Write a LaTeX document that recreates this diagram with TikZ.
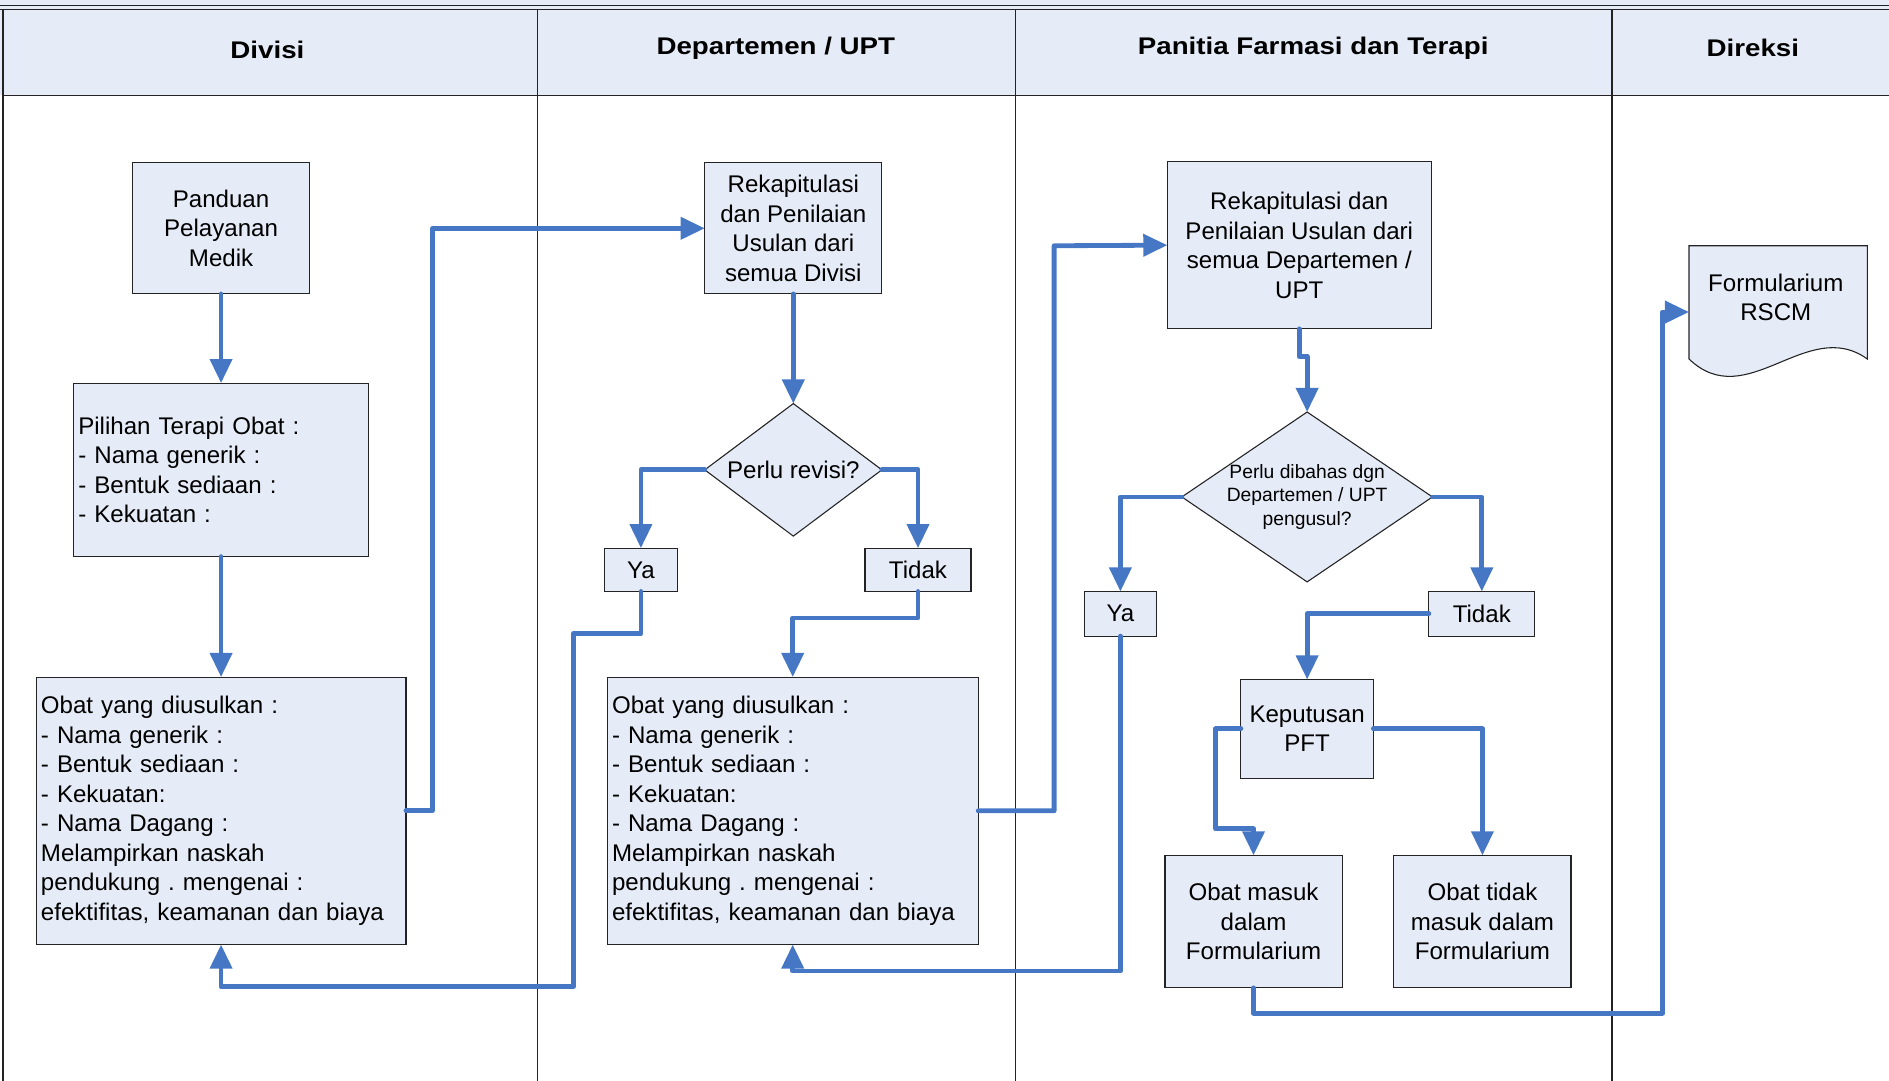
\documentclass[tikz,border=0pt]{standalone}
\usepackage{fontspec}
\usepackage{graphicx}
\setmainfont{Liberation Sans}
\usetikzlibrary{arrows.meta,shapes.geometric}
\frenchspacing

\definecolor{flowblue}{RGB}{70,119,196}
\definecolor{boxfill}{RGB}{230,236,247}
\definecolor{framegray}{RGB}{35,35,35}

\newcommand\boxtextfont{\fontsize{20}{24.5}\selectfont}
\newcommand\smalltextfont{\fontsize{16}{19.5}\selectfont}
\newcommand\headtext[1]{\scalebox{1.15}[1]{\fontsize{20}{24}\selectfont\bfseries #1}}

\begin{document}
\begin{tikzpicture}[x=1pt,y=-1pt,
  box/.style={draw=framegray, line width=0.9pt, fill=boxfill, inner sep=0pt,
    outer sep=0pt, font=\boxtextfont, align=center},
  listbox/.style={box, align=left},
  decision/.style={diamond, draw=framegray, line width=0.9pt, fill=boxfill,
    inner sep=0pt, outer sep=0pt},
  lane/.style={draw=framegray, line width=1pt},
  flow/.style={draw=flowblue, line width=4pt, line join=round, line cap=round,
    -{Triangle[length=20pt,width=18pt]}}
]
\useasboundingbox (0,0) rectangle (1568,897);

% swimlane header band and lane dividers
\fill[boxfill] (0,0) rectangle (1568,79);
\draw[lane] (0,4.8) -- (1568,4.8);
\draw[lane] (0,7.6) -- (1568,7.6);
\draw[lane] (2,79) -- (1568,79);
\draw[lane, line width=1.4pt] (2.5,7.6) -- (2.5,897);
\draw[lane] (446,7.6) -- (446,897);
\draw[lane] (843,7.6) -- (843,897);
\draw[lane] (1338,7.6) -- (1338,897);

\node (hdiv)  at (222,41)  {\headtext{Divisi}};
\node (hdept) at (644,40)  {\headtext{Departemen / UPT}};
\node (hpft)  at (1090,40) {\headtext{Panitia Farmasi dan Terapi}};
\node (hdir)  at (1455,40) {\headtext{Direksi}};

% Divisi lane
\node[box, minimum width=147pt, minimum height=109pt] (panduan) at (183.5,189.5)
  {Panduan\\Pelayanan\\Medik};
\node[listbox, minimum width=245pt, minimum height=144pt, text width=237pt] (pilihan) at (183.5,390)
  {Pilihan Terapi Obat :\\- Nama generik :\\- Bentuk sediaan :\\- Kekuatan :};
\node[listbox, minimum width=307pt, minimum height=222pt, text width=299pt] (obat1) at (183.5,673)
  {Obat yang diusulkan :\\- Nama generik :\\- Bentuk sediaan :\\- Kekuatan:\\- Nama Dagang :\\Melampirkan naskah\\pendukung . mengenai :\\efektifitas, keamanan dan biaya};

% Departemen / UPT lane
\node[box, minimum width=147pt, minimum height=109pt] (rekap1) at (658.5,189.5)
  {Rekapitulasi\\dan Penilaian\\Usulan dari\\semua Divisi};
\node[decision, minimum width=147pt, minimum height=110pt] (revisi) at (658.5,390)
  {\makebox[0pt]{\boxtextfont Perlu revisi?}};
\node[box, minimum width=60pt, minimum height=36pt] (ya1) at (532,473) {Ya};
\node[box, minimum width=88pt, minimum height=36pt] (tidak1) at (762,473) {Tidak};
\node[listbox, minimum width=308pt, minimum height=222pt, text width=300pt] (obat2) at (658,673)
  {Obat yang diusulkan :\\- Nama generik :\\- Bentuk sediaan :\\- Kekuatan:\\- Nama Dagang :\\Melampirkan naskah\\pendukung . mengenai :\\efektifitas, keamanan dan biaya};

% Panitia Farmasi dan Terapi lane
\node[box, minimum width=219pt, minimum height=139pt] (rekap2) at (1078.5,203.5)
  {Rekapitulasi dan\\Penilaian Usulan dari\\semua Departemen /\\UPT};
\node[decision, minimum width=208pt, minimum height=141pt] (bahas) at (1085,412.5)
  {\makebox[0pt]{\smalltextfont\begin{tabular}{@{}c@{}}Perlu dibahas dgn\\Departemen / UPT\\pengusul?\end{tabular}}};
\node[box, minimum width=60pt, minimum height=37pt] (ya2) at (930,509.5) {Ya};
\node[box, minimum width=88pt, minimum height=37pt] (tidak2) at (1230,509.5) {Tidak};
\node[box, minimum width=110pt, minimum height=82pt] (putusan) at (1085,605)
  {Keputusan\\PFT};
\node[box, minimum width=147pt, minimum height=110pt] (masuk) at (1040.5,765)
  {Obat masuk\\dalam\\Formularium};
\node[box, minimum width=147pt, minimum height=110pt] (tdkmasuk) at (1230.5,765)
  {Obat tidak\\masuk dalam\\Formularium};

% Direksi lane: document shape
\draw[draw=framegray, line width=0.9pt, fill=boxfill]
  (1402,204) -- (1550,204) -- (1550,298)
  .. controls (1500,262) and (1450,344) .. (1402,298) -- cycle;
\node[inner sep=0pt, outer sep=0pt, minimum width=148pt, minimum height=110pt] (formbox) at (1476,259) {};
\node[font=\boxtextfont, align=center] (formtxt) at (1474,247) {Formularium\\RSCM};

% connectors
\draw[flow] (panduan.south) -- (pilihan.north);
\draw[flow] (pilihan.south) -- (obat1.north);
\draw[flow] (obat1.east) -- (359,673) -- (359,189.5) -- (rekap1.west);
\draw[flow] (rekap1.south) -- (revisi.north);
\draw[flow] (revisi.west) -| (ya1.north);
\draw[flow] (revisi.east) -| (tidak1.north);
\draw[flow] (tidak1.south) -- (762,513) -- (658,513) -- (obat2.north);
\draw[flow] (ya1.south) -- (532,526) -- (476,526) -- (476,819) -- (183.5,819) -- (obat1.south);
\draw[flow] (obat2.east) -- (875,673) -- (875,204) -- (rekap2.west);
\draw[flow] (rekap2.south) -- (1078.5,296) -- (1085,296) -- (bahas.north);
\draw[flow] (bahas.west) -| (ya2.north);
\draw[flow] (bahas.east) -| (tidak2.north);
\draw[flow] (tidak2.west) -| (putusan.north);
\draw[flow] (ya2.south) -- (930,806) -- (658,806) -- (obat2.south);
\draw[flow] (putusan.west) -- (1009,605) -- (1009,688) -- (1040.5,688) -- (masuk.north);
\draw[flow] (putusan.east) -| (tdkmasuk.north);
\draw[flow] (masuk.south) -- (1040.5,841) -- (1380,841) -- (1380,259) -- (formbox.west);
\end{tikzpicture}
\end{document}
